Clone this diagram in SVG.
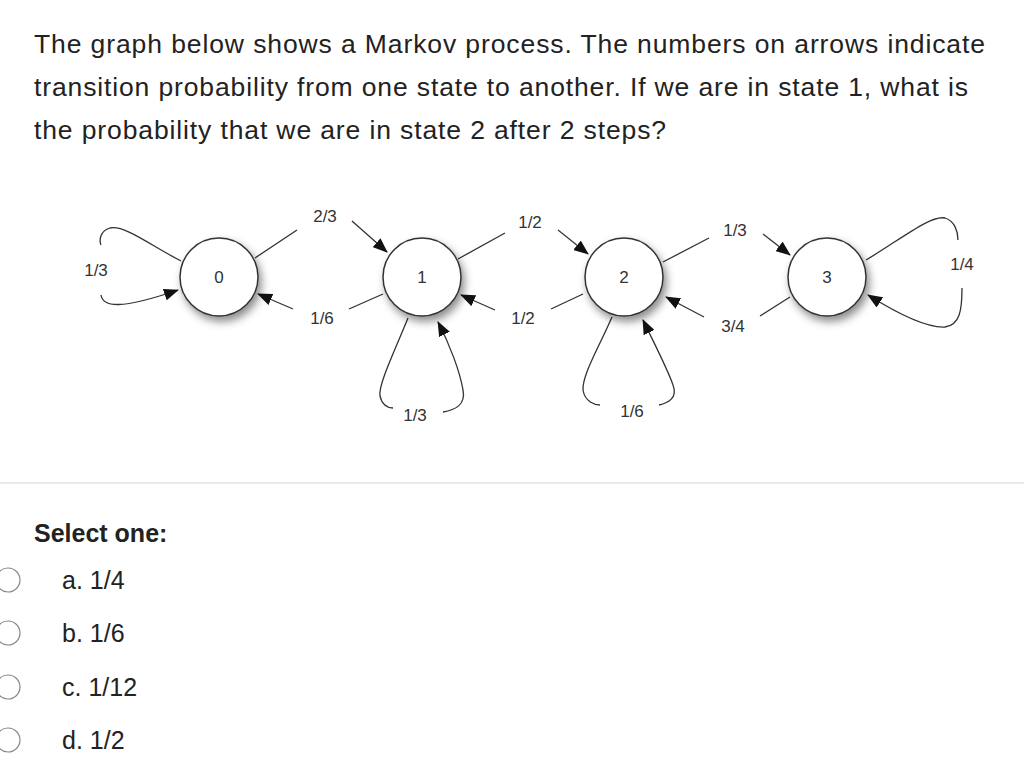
<svg xmlns="http://www.w3.org/2000/svg" width="1024" height="782" viewBox="0 0 1024 782">
<defs>
<filter id="sh" x="-50%" y="-50%" width="200%" height="200%"><feDropShadow dx="3" dy="5" stdDeviation="4" flood-color="#000" flood-opacity="0.45"/></filter>
<marker id="ah" markerWidth="16" markerHeight="12" refX="14" refY="6" orient="auto" markerUnits="userSpaceOnUse"><path d="M0,0 L15,6 L0,12 Z" fill="#111"/></marker>
</defs>
<style>
.q{font-family:"Liberation Sans",Arial,sans-serif;font-size:26.5px;fill:#222}
.l{font-family:"Liberation Sans",Arial,sans-serif;font-size:17px;fill:#333;text-anchor:middle}
.n{fill:#fff;stroke:#333;stroke-width:1.5}
.e{fill:none;stroke:#333;stroke-width:1.3}
.a{fill:none;stroke:#333;stroke-width:1.3;marker-end:url(#ah)}
.r{fill:#fff;stroke:#888;stroke-width:1.2}
</style>
<rect width="1024" height="782" fill="#fff"/>
<text class="q" x="34" y="53" textLength="951">The graph below shows a Markov process. The numbers on arrows indicate</text>
<text class="q" x="34" y="96" textLength="934">transition probability from one state to another. If we are in state 1, what is</text>
<text class="q" x="34" y="139" textLength="632">the probability that we are in state 2 after 2 steps?</text>
<g id="connectors">
<path class="e" d="M255,258 L297,230"/><path class="a" d="M352,221 L387,252"/>
<path class="e" d="M383,294 L349,309"/><path class="a" d="M293,309 L258,294"/>
<path class="e" d="M181,261 C150,245 125,225 110,228 C100,231 99,240 101,245"/>
<path class="a" d="M101,295 C103,307 120,310 178,290"/>
<path class="e" d="M458,259 L505,233"/><path class="a" d="M558,230 L588,254"/>
<path class="e" d="M583,294 L551,309"/><path class="a" d="M495,310 L461,295"/>
<path class="e" d="M408,318 C395,350 378,385 380,396 C382,405 388,408 393,408"/>
<path class="a" d="M443,412 C455,410 466,405 463,390 C460,372 450,345 438,322"/>
<path class="e" d="M612,317 C600,345 582,375 583,390 C585,402 595,405 600,405"/>
<path class="a" d="M659,405 C668,403 678,398 673,385 C668,370 655,345 643,320"/>
<path class="e" d="M663,262 L709,238"/><path class="a" d="M763,234 L790,255"/>
<path class="e" d="M790,297 L760,316"/><path class="a" d="M704,317 L666,297"/>
<path class="e" d="M866,260 C900,240 930,215 945,218 C955,221 958,232 958,240"/>
<path class="a" d="M962,288 C962,310 960,325 945,327 C925,328 895,312 868,295"/>
</g>
<g id="labels">
<text class="l" x="325" y="222">2/3</text>
<text class="l" x="322" y="324">1/6</text>
<text class="l" x="96" y="276">1/3</text>
<text class="l" x="530" y="228">1/2</text>
<text class="l" x="523" y="324">1/2</text>
<text class="l" x="415" y="421">1/3</text>
<text class="l" x="632" y="417">1/6</text>
<text class="l" x="735" y="236">1/3</text>
<text class="l" x="733" y="332">3/4</text>
<text class="l" x="962" y="270">1/4</text>
</g>
<g id="node0"><circle class="n" cx="219" cy="277" r="39" filter="url(#sh)"/><text class="l" x="219" y="283">0</text></g>
<g id="node1"><circle class="n" cx="422" cy="277" r="39" filter="url(#sh)"/><text class="l" x="422" y="283">1</text></g>
<g id="node2"><circle class="n" cx="624" cy="277" r="39" filter="url(#sh)"/><text class="l" x="624" y="283">2</text></g>
<g id="node3"><circle class="n" cx="827" cy="277" r="39" filter="url(#sh)"/><text class="l" x="827" y="283">3</text></g>
<line x1="0" y1="483" x2="1024" y2="483" stroke="#e2e2e2" stroke-width="1.5"/>
<text class="q" x="34" y="542" style="font-weight:bold;font-size:25px">Select one:</text>
<g id="options">
<circle class="r" cx="8" cy="580" r="12"/><text class="q" x="62" y="589" style="font-size:25px">a. 1/4</text>
<circle class="r" cx="8" cy="633" r="12"/><text class="q" x="62" y="642" style="font-size:25px">b. 1/6</text>
<circle class="r" cx="8" cy="687" r="12"/><text class="q" x="62" y="696" style="font-size:25px">c. 1/12</text>
<circle class="r" cx="8" cy="740" r="12"/><text class="q" x="62" y="749" style="font-size:25px">d. 1/2</text>
</g>
</svg>
